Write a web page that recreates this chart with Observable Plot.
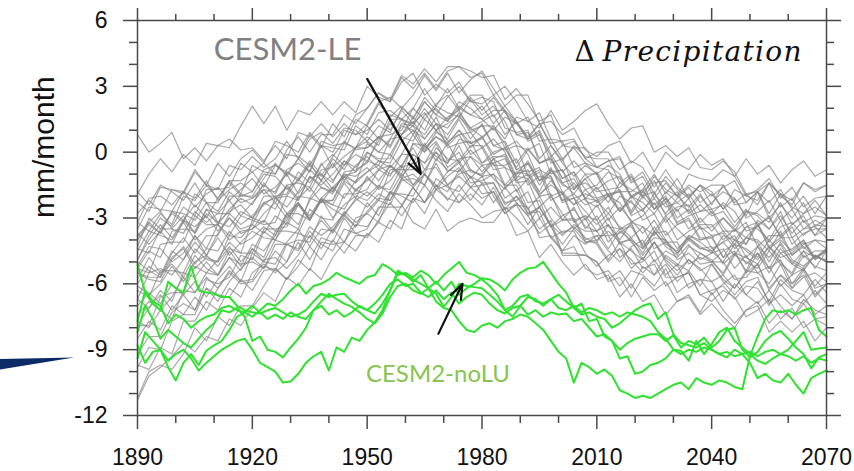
<!DOCTYPE html>
<html><head><meta charset="utf-8">
<script src="https://cdn.jsdelivr.net/npm/d3@7"></script>
<script src="https://cdn.jsdelivr.net/npm/@observablehq/plot@0.6"></script>
<style>
html,body{margin:0;padding:0;background:#fff;}
#wrap{position:relative;width:854px;height:471px;overflow:hidden;}
#wedge{position:absolute;left:0;top:357px;width:74px;height:13px;background:#0c2a66;clip-path:polygon(0 15%,100% 4%,0 96%);}
</style></head><body>
<div id="wrap"><div id="chart"></div><div id="wedge"></div></div>
<script>
// ---- sample grids ----
const grayYears = d3.range(1890, 2071, 3);   // CESM2-LE members, every 3 years
const greenYears = d3.range(1890, 2071, 2);  // CESM2-noLU members, every 2 years

// ---- CESM2-LE ensemble members (mm/month) ----
const le01 = [0.8,0.0,0.4,0.9,-0.3,0.2,-0.4,0.3,0.6,0.1, 0.2,-0.4,0.3,-0.3,0.9,0.7,1.3,0.7,1.3,0.8, 1.3,2.3,2.5,2.0,2.6,3.5,2.8,3.6,2.7,3.3, 3.7,2.9,2.1,2.6,2.6,1.3,1.4,0.8,1.1,0.1, -0.2,0.3,0.5,-0.5,0.0,-0.9,0.0,-0.5,-0.8,-0.1, -0.6,-0.3,-1.1,-0.3,-1.0,-0.6,-1.4,-0.8,-0.4,-1.1, -0.8];
const le02 = [-11.2,-10.0,-9.7,-9.9,-9.2,-8.0,-8.6,-7.5,-7.9,-7.0, -7.0,-6.1,-5.3,-5.8,-4.9,-5.4,-4.1,-4.2,-4.1,-3.0, -2.8,-3.2,-1.9,-1.9,-2.0,-1.0,-1.5,-1.8,-0.8,-1.1, -1.4,-1.4,-2.4,-2.0,-2.6,-3.5,-3.1,-4.6,-4.6,-4.7, -5.0,-5.9,-5.7,-6.6,-5.7,-6.3,-5.9,-6.8,-6.5,-7.3, -6.4,-7.2,-7.8,-7.2,-7.0,-8.2,-7.7,-8.2,-7.7,-8.6, -8.0];
const le03 = [-3.2,-3.6,-2.8,-3.3,-2.0,-2.2,-1.5,-2.1,-1.3,-1.9, -0.6,-0.9,-1.0,0.1,0.7,0.0,0.8,0.8,1.7,1.3, 2.0,2.7,2.3,3.4,2.9,3.6,2.9,3.7,3.9,3.4, 3.6,2.6,3.0,2.3,1.4,1.8,0.6,-0.3,0.2,-0.5, -1.0,-0.6,-1.0,-2.0,-1.8,-1.3,-2.3,-1.8,-2.8,-2.4, -2.9,-2.7,-3.4,-2.7,-2.9,-3.5,-2.7,-3.9,-3.5,-3.4, -3.9];
const le04 = [-5.0,-5.4,-5.7,-4.8,-4.4,-5.3,-4.8,-5.0,-4.3,-5.0, -4.4,-5.0,-4.0,-4.2,-4.5,-3.6,-4.2,-4.5,-3.5,-3.7, -3.9,-3.1,-2.3,-2.9,-2.1,-2.8,-1.7,-2.1,-2.3,-1.6, -2.1,-1.8,-2.6,-2.0,-2.8,-2.5,-3.4,-2.9,-2.6,-3.4, -3.6,-3.3,-4.0,-3.2,-3.4,-3.8,-3.0,-4.0,-3.6,-3.3, -3.3,-4.0,-3.5,-4.2,-3.1,-3.5,-2.9,-3.7,-3.1,-3.8, -3.0];
const le05 = [-4.9,-4.0,-3.3,-3.9,-3.1,-3.7,-2.6,-2.8,-2.8,-1.9, -2.1,-1.5,-1.9,-0.9,-1.3,-0.6,-1.1,-0.2,0.5,0.1, 0.2,0.7,0.3,1.3,1.2,0.8,1.6,0.5,0.8,0.9, 0.2,0.6,0.0,-1.1,-1.2,-0.9,-2.2,-1.9,-3.2,-2.9, -3.1,-4.1,-3.5,-4.1,-4.7,-4.1,-5.0,-5.6,-4.9,-5.4, -5.1,-5.8,-6.2,-5.5,-5.1,-6.2,-5.6,-6.0,-5.3,-6.1, -5.5];
const le06 = [-2.8,-2.2,-2.7,-1.7,-1.8,-2.1,-1.3,-2.2,-1.7,-1.4, -1.8,-1.0,-1.1,-1.7,-1.3,-0.5,-1.3,-0.5,-1.3,-0.6, -0.2,-0.8,-0.1,-0.7,0.4,0.0,0.5,-0.4,0.0,-0.9, -1.0,-0.5,-0.3,-1.3,-1.0,-2.0,-1.3,-1.9,-2.4,-1.7, -2.3,-2.0,-2.7,-2.0,-2.6,-2.1,-2.8,-2.1,-1.6,-2.3, -1.9,-2.6,-1.7,-2.0,-2.2,-1.4,-2.0,-2.4,-1.4,-1.8, -1.5];
const le07 = [-6.3,-6.6,-5.4,-5.4,-5.5,-4.4,-4.9,-5.0,-3.8,-3.9, -3.3,-3.7,-2.9,-3.3,-2.0,-2.1,-1.3,-1.8,-1.0,-1.4, 0.0,-0.3,-0.3,0.8,1.4,0.6,1.3,1.1,1.8,1.1, 1.4,1.7,0.8,1.4,0.5,0.8,-0.2,0.3,0.5,-0.3, -0.7,-0.4,-0.3,-1.4,-1.1,-2.1,-1.4,-2.0,-2.5,-1.9, -2.8,-2.3,-2.7,-3.6,-3.4,-2.9,-3.9,-3.4,-4.4,-4.0, -4.4];
const le08 = [-8.5,-7.7,-8.1,-7.0,-7.4,-6.6,-7.2,-6.2,-5.5,-6.0, -5.9,-5.2,-5.4,-4.2,-4.0,-4.1,-2.9,-3.6,-2.8,-2.2, -1.8,-2.2,-0.8,-0.8,-0.8,0.3,-0.2,-0.5,0.6,0.4, 0.7,-0.1,0.2,-0.7,0.1,-0.5,-0.2,-1.2,-0.9,-1.7, -1.5,-0.9,-1.2,-2.0,-1.7,-1.0,-1.9,-1.2,-2.1,-1.5, -2.0,-1.6,-1.3,-2.3,-1.8,-2.8,-1.9,-2.5,-2.8,-2.2, -2.9];
const le09 = [-3.7,-4.2,-3.6,-4.2,-3.1,-3.4,-2.9,-3.6,-3.0,-3.7, -3.5,-2.8,-2.3,-3.0,-2.4,-3.1,-2.1,-2.4,-2.6,-1.7, -2.0,-1.5,-1.9,-1.0,-1.5,-1.0,-1.7,-1.1,-0.7,-1.6, -1.1,-2.0,-2.8,-2.4,-2.5,-3.9,-3.8,-4.5,-4.3,-5.3, -5.6,-5.4,-6.1,-5.4,-5.6,-6.1,-5.3,-6.4,-6.0,-5.8, -5.9,-6.8,-6.0,-6.5,-6.9,-6.3,-7.0,-7.6,-6.7,-7.2, -7.4];
const le10 = [-7.9,-7.1,-6.5,-7.2,-6.5,-7.2,-6.2,-6.5,-6.6,-5.8, -6.3,-5.4,-5.3,-5.8,-5.2,-4.3,-4.9,-4.0,-4.6,-3.8, -3.8,-3.2,-3.5,-2.4,-3.2,-3.5,-2.6,-3.6,-3.2,-3.0, -3.2,-3.2,-2.5,-3.0,-3.6,-3.0,-3.9,-4.5,-3.8,-4.2, -3.8,-4.5,-5.0,-4.3,-4.0,-5.0,-4.5,-4.8,-4.2,-4.9, -4.6,-4.4,-5.3,-4.7,-5.5,-5.2,-6.1,-5.6,-5.3,-6.2, -6.0];
const le11 = [-3.2,-2.1,-2.0,-2.4,-1.8,-0.8,-1.5,-0.5,-1.1,-0.3, 0.1,-0.5,0.5,0.3,0.0,0.9,0.3,0.0,1.0,0.8, 1.0,1.5,1.0,1.9,1.3,1.8,1.0,1.6,1.9,1.0, 1.2,0.3,0.5,-0.5,0.2,-0.5,-0.3,-1.4,-1.2,-2.1, -2.2,-1.9,-1.8,-2.9,-2.6,-3.6,-2.9,-3.5,-4.0,-3.4, -4.4,-4.1,-4.7,-3.9,-4.0,-4.5,-3.6,-4.7,-4.2,-4.0, -4.1];
const le12 = [-5.5,-5.7,-5.7,-4.6,-3.9,-4.6,-3.8,-3.8,-2.8,-3.3, -2.9,-2.3,-2.6,-1.5,-1.4,-1.6,-0.5,-1.3,-0.6,-0.1, -0.4,0.5,1.3,0.8,1.6,1.0,2.1,1.8,1.6,2.4, 1.7,2.1,1.4,0.3,0.1,0.4,-1.0,-0.8,-2.1,-1.9, -2.1,-3.1,-2.5,-3.1,-3.7,-3.1,-4.0,-4.6,-3.9,-4.4, -4.3,-5.1,-4.6,-5.4,-4.3,-4.8,-4.2,-5.1,-4.5,-5.3, -4.5];
const le13 = [-1.8,-2.4,-1.5,-1.8,-2.2,-1.4,-2.3,-2.7,-1.8,-2.3, -2.1,-1.7,-2.3,-1.5,-2.1,-1.6,-2.3,-1.6,-1.1,-1.8, -1.2,-1.6,-0.6,-1.0,0.4,0.3,1.0,0.4,1.0,0.4, 0.6,1.2,0.6,1.6,1.4,1.1,1.9,1.0,1.4,1.9, 2.2,1.3,0.6,1.1,1.2,0.0,0.3,-0.2,0.2,-0.7, -0.8,-0.4,-0.9,-1.9,-1.8,-1.4,-2.5,-2.1,-3.2,-2.9, -3.0];
const le14 = [-9.8,-8.9,-9.0,-7.7,-7.4,-7.4,-6.2,-6.8,-5.9,-5.3, -4.8,-5.3,-4.5,-5.0,-3.7,-3.9,-3.1,-3.7,-2.9,-3.4, -2.3,-2.9,-1.8,-2.0,-2.3,-1.5,-2.2,-2.7,-1.9,-2.4, -3.0,-2.7,-2.6,-3.8,-3.6,-4.8,-4.2,-5.0,-5.6,-5.1, -5.8,-5.6,-6.6,-6.0,-6.8,-6.5,-7.4,-6.8,-6.6,-7.4, -6.9,-7.5,-8.0,-7.2,-6.8,-7.8,-7.2,-7.6,-6.9,-7.6, -7.5];
const le15 = [-4.0,-3.3,-3.7,-2.7,-3.1,-2.4,-3.0,-2.1,-1.4,-2.0, -2.0,-1.2,-0.5,-1.1,-0.3,-0.9,0.3,0.2,0.1,1.2, 0.8,1.8,1.9,1.5,2.0,2.9,2.1,2.9,2.0,2.6, 2.6,1.6,2.1,1.4,0.6,1.0,-0.1,-0.9,-0.4,-1.0, -1.0,-2.0,-1.7,-2.7,-1.8,-2.4,-2.0,-3.0,-2.6,-3.5, -3.4,-3.0,-3.6,-2.7,-2.8,-3.2,-2.3,-3.3,-2.8,-2.5, -2.9];
const le16 = [-5.2,-4.3,-4.4,-5.0,-4.6,-3.8,-4.7,-3.9,-4.7,-4.1, -3.6,-3.9,-4.0,-2.9,-2.3,-3.0,-2.2,-2.2,-1.3,-1.7, -1.3,-0.8,-1.1,-0.1,-0.1,-0.5,0.4,-0.7,-0.3,-0.2, -0.6,-0.5,-1.6,-1.2,-2.3,-2.2,-3.4,-3.1,-3.1,-4.1, -4.1,-4.9,-4.1,-4.5,-4.9,-4.1,-4.8,-5.2,-4.3,-4.6, -5.0,-4.5,-4.2,-5.1,-4.6,-5.5,-4.6,-5.1,-5.4,-4.7, -5.0];
const le17 = [-1.9,-1.0,-0.3,-0.9,-0.1,-0.6,0.4,0.3,0.2,1.2, 2.1,1.3,2.1,1.0,1.9,1.7,2.3,1.7,2.3,1.8, 3.0,2.5,2.3,3.2,3.6,2.6,3.1,2.7,3.2,2.3, 2.2,2.6,1.9,0.8,0.6,0.9,-0.5,-0.3,-1.6,-1.4, -1.8,-1.7,-2.7,-2.2,-3.1,-2.8,-3.8,-3.3,-3.1,-4.0, -3.9,-4.8,-4.0,-4.5,-4.9,-4.3,-5.0,-5.6,-4.7,-5.2, -5.4];
const le18 = [-6.7,-7.1,-6.3,-6.8,-5.5,-5.7,-5.0,-5.6,-4.8,-5.4, -4.4,-4.8,-3.6,-3.6,-3.7,-2.6,-3.0,-3.1,-1.9,-1.9, -1.7,-0.8,-0.6,-1.1,-0.5,0.4,-0.4,0.4,-0.5,0.1, -0.5,0.0,0.2,-0.8,-0.5,-1.5,-0.8,-1.4,-1.9,-1.2, -2.1,-1.9,-2.7,-2.0,-2.3,-2.8,-2.1,-3.2,-2.9,-2.7, -2.6,-3.4,-4.0,-3.4,-3.2,-4.4,-4.0,-4.5,-4.0,-4.9, -4.5];
const le19 = [-5.3,-5.5,-4.2,-4.1,-4.1,-2.9,-3.3,-3.3,-2.0,-2.0, -1.8,-0.8,-0.6,-1.0,-0.3,0.8,0.2,1.3,0.7,1.7, 2.0,2.7,2.4,3.5,3.1,3.8,3.2,3.9,3.9,3.7, 3.4,3.5,2.4,2.9,2.2,1.4,1.7,0.3,0.2,0.2, -0.7,-0.4,-0.2,-1.3,-0.9,-1.9,-1.1,-1.7,-2.1,-1.5, -1.8,-2.6,-2.1,-2.9,-1.8,-2.3,-1.7,-2.6,-2.0,-2.8, -2.0];
const le20 = [-11.3,-10.2,-9.8,-9.3,-8.7,-9.1,-8.4,-8.6,-7.6,-7.9, -7.1,-6.4,-6.8,-5.7,-6.1,-5.3,-5.8,-4.8,-4.1,-4.5, -3.7,-4.1,-3.1,-3.5,-2.1,-2.3,-1.5,-2.2,-1.5,-2.2, -1.4,-2.3,-1.6,-2.3,-2.9,-2.5,-3.4,-4.2,-3.5,-4.1, -4.0,-3.6,-4.1,-5.1,-5.0,-4.5,-5.6,-5.1,-6.2,-5.8, -6.5,-6.0,-5.6,-6.5,-5.9,-6.8,-5.8,-6.3,-6.5,-5.8, -6.4];
const le21 = [-3.8,-3.2,-3.7,-2.7,-2.8,-3.1,-2.3,-3.2,-2.7,-2.4, -3.0,-2.4,-2.0,-2.8,-2.3,-3.1,-2.2,-2.6,-2.9,-2.1, -2.5,-1.9,-2.2,-1.2,-1.6,-1.0,-1.6,-0.9,-0.4,-1.2, -0.6,-1.2,-1.7,-1.0,-0.8,-1.9,-1.5,-1.9,-1.4,-2.1, -1.6,-2.3,-1.4,-1.7,-2.0,-1.1,-1.7,-2.0,-1.0,-1.2, -1.3,-0.8,-1.1,-2.0,-1.7,-1.2,-2.1,-1.6,-2.5,-2.1, -2.0];
const le22 = [-7.7,-8.0,-7.2,-7.6,-6.3,-6.4,-5.7,-6.2,-5.4,-5.9, -4.6,-5.0,-5.1,-4.1,-3.5,-4.3,-3.5,-3.6,-2.7,-3.2, -2.8,-2.2,-2.4,-1.3,-1.2,-1.5,-0.5,-1.5,-1.0,-0.8, -1.1,-1.0,-2.1,-1.7,-2.8,-2.7,-3.9,-3.6,-3.6,-4.6, -5.2,-4.7,-4.4,-5.3,-4.8,-5.6,-4.7,-5.1,-5.4,-4.6, -4.9,-5.6,-4.7,-5.0,-5.3,-4.5,-5.1,-5.5,-4.5,-4.8, -4.9];
const le23 = [-4.9,-3.8,-3.0,-3.4,-2.5,-2.9,-1.7,-1.7,-1.6,-0.5, -0.9,-0.5,-1.0,-0.1,-0.2,-0.6,0.3,-0.7,-0.2,0.2, 0.5,0.0,-0.1,0.8,1.2,0.2,0.7,0.3,0.8,-0.1, 0.2,-0.8,-0.7,-1.8,-1.2,-2.0,-1.9,-3.1,-3.0,-4.0, -3.8,-3.8,-4.8,-4.4,-5.3,-5.1,-6.1,-5.7,-5.5,-6.5, -6.8,-6.3,-6.6,-7.5,-7.2,-6.7,-7.6,-7.1,-8.0,-7.6, -7.9];
const le24 = [-6.0,-5.2,-5.6,-4.5,-4.9,-4.1,-4.7,-3.7,-3.0,-3.5, -3.3,-2.3,-2.1,-2.5,-1.8,-0.8,-1.3,-0.3,-0.8,0.2, 0.7,0.3,1.5,1.5,1.3,2.3,1.7,1.4,2.3,2.0, 1.5,1.9,1.9,0.8,0.9,-0.3,0.3,-0.5,-1.1,-0.6, -1.0,-2.0,-1.8,-2.8,-2.0,-2.6,-2.3,-3.3,-3.0,-3.9, -3.9,-3.6,-4.2,-3.4,-3.5,-4.0,-3.1,-4.2,-3.7,-3.5, -3.5];
const le25 = [-6.1,-6.5,-6.0,-5.2,-5.9,-5.0,-4.7,-5.2,-4.4,-4.6, -4.6,-3.5,-3.5,-3.4,-2.4,-2.9,-2.1,-1.6,-2.1,-1.3, -0.9,-0.4,-0.7,-0.1,0.8,0.0,0.9,0.6,1.5,0.6, 1.3,0.3,0.1,0.3,-1.1,-0.8,-1.1,-2.2,-2.1,-2.7, -3.3,-2.8,-3.4,-3.9,-3.4,-4.4,-4.1,-4.1,-5.1,-4.8, -5.0,-5.0,-5.8,-5.7,-5.1,-6.3,-5.6,-6.2,-5.4,-6.5, -6.0];
const le26 = [-4.5,-3.6,-3.8,-4.0,-3.2,-4.0,-3.5,-3.3,-4.0,-3.6, -3.5,-3.1,-3.6,-3.1,-2.3,-3.1,-2.2,-2.4,-1.4,-2.1, -1.1,-1.7,-1.3,-0.6,-1.5,-0.8,-0.7,-1.5,-1.1,-1.6, -1.5,-1.4,-2.3,-2.2,-1.8,-3.0,-2.5,-3.1,-2.5,-3.5, -2.9,-3.8,-3.7,-3.3,-4.3,-3.7,-3.6,-4.4,-3.9,-4.3, -4.6,-3.8,-4.0,-4.2,-3.3,-4.1,-3.4,-3.2,-3.8,-3.3, -3.4];
const le27 = [-7.4,-6.8,-7.2,-6.6,-5.7,-6.4,-5.5,-5.6,-4.5,-5.2, -4.2,-4.5,-3.8,-2.8,-3.3,-2.2,-1.6,-1.9,-0.9,-0.8, -0.5,0.7,0.8,1.0,2.0,1.5,2.2,2.6,1.9,2.5, 1.9,2.5,1.8,1.3,1.6,0.5,0.6,0.5,-0.7,-0.5, -0.7,-0.8,-1.8,-1.8,-1.4,-2.6,-2.1,-2.7,-2.1,-3.2, -2.7,-3.6,-3.6,-3.2,-4.3,-3.8,-3.8,-4.7,-4.3,-4.8, -4.5];
const le28 = [-3.5,-2.5,-2.6,-2.7,-1.8,-2.5,-1.9,-1.6,-2.2,-1.7, -1.2,-1.9,-1.6,-1.0,-1.9,-1.2,-1.0,-1.7,-1.1,-1.4, -0.9,-0.6,-1.0,-0.6,0.2,-0.8,0.0,-0.5,0.3,-0.8, -1.1,-0.3,-0.7,-1.0,-0.4,-1.3,-0.9,-0.8,-1.7,-1.2, -0.9,-1.7,-1.6,-1.1,-2.1,-1.4,-1.3,-2.0,-1.5,-1.8, -1.5,-1.5,-2.4,-2.3,-1.8,-3.0,-2.4,-3.0,-2.3,-3.4, -3.0];
const le29 = [-5.8,-4.8,-5.5,-5.1,-5.7,-4.7,-5.3,-5.6,-4.8,-5.1, -5.0,-5.3,-4.2,-4.2,-4.4,-3.4,-3.8,-3.4,-2.8,-3.4, -2.7,-2.1,-2.2,-1.2,-1.0,-1.5,-0.3,-0.8,-0.9,-0.2, -0.9,-0.3,-1.5,-1.5,-2.6,-2.0,-3.0,-3.7,-3.4,-3.9, -4.2,-5.0,-4.4,-4.9,-5.5,-4.9,-5.7,-5.7,-5.5,-6.5, -6.3,-6.1,-6.7,-6.1,-6.2,-7.0,-6.0,-6.7,-6.9,-6.3, -6.9];
const le30 = [-9.2,-8.4,-8.4,-7.3,-6.9,-7.2,-5.8,-6.0,-5.7,-4.7, -4.9,-3.6,-4.0,-3.2,-3.5,-2.1,-2.3,-2.2,-1.1,-0.9, -0.4,-0.6,0.6,0.7,0.5,1.5,1.0,1.3,1.7,0.9, 1.2,1.2,0.2,0.5,-0.1,-1.3,-0.7,-1.8,-2.4,-2.1, -3.1,-2.5,-3.5,-3.4,-4.2,-3.4,-4.1,-4.6,-4.0,-4.4, -4.5,-5.0,-4.2,-4.4,-4.8,-4.0,-4.6,-4.4,-4.0,-4.8, -4.4];
const le31 = [-4.4,-4.6,-3.5,-3.5,-3.7,-2.7,-3.2,-2.8,-2.2,-2.9, -2.3,-1.7,-1.8,-0.8,-0.5,-0.9,0.5,0.3,0.4,1.5, 1.2,2.2,1.6,2.1,1.5,2.5,1.9,1.5,2.1,1.7, 1.5,1.0,1.6,1.3,0.6,1.3,0.4,0.5,0.6,-0.3, 0.0,0.0,-0.8,-0.4,-0.7,-1.6,-0.8,-1.6,-2.0,-1.5, -2.4,-1.5,-2.3,-1.9,-2.4,-1.4,-1.9,-2.2,-1.4,-1.7, -1.5];
const le32 = [-7.0,-6.4,-6.9,-6.0,-6.5,-5.9,-6.6,-5.8,-5.2,-5.9, -5.8,-4.9,-4.8,-5.3,-4.7,-3.8,-4.4,-3.5,-4.1,-3.3, -3.4,-2.6,-1.8,-2.4,-1.6,-2.3,-1.2,-1.6,-1.8,-1.1, -1.9,-1.8,-2.8,-2.3,-2.9,-3.7,-3.3,-4.7,-4.7,-4.7, -5.0,-5.8,-5.4,-6.2,-5.2,-5.6,-5.1,-5.9,-5.4,-6.1, -5.1,-5.9,-6.5,-5.9,-5.7,-6.9,-6.5,-7.0,-6.5,-7.4, -7.0];
const le33 = [-2.3,-2.7,-1.6,-1.7,-1.9,-0.9,-1.5,-1.7,-0.6,-0.8, -0.2,-0.7,-0.3,0.5,-0.3,0.6,0.9,0.4,1.1,1.0, 0.5,1.2,0.9,2.0,1.6,2.3,1.7,2.5,3.0,2.3, 2.5,2.3,1.1,0.9,1.0,-0.5,-0.3,-1.2,-0.9,-2.2, -2.5,-2.0,-2.3,-3.2,-2.9,-2.3,-3.2,-2.6,-3.5,-3.0, -3.6,-3.0,-3.5,-3.9,-3.3,-4.3,-3.9,-3.9,-4.8,-4.5, -4.5];
const le34 = [-5.3,-4.5,-4.8,-3.6,-3.5,-3.6,-2.6,-3.3,-2.6,-2.1, -2.4,-1.4,-2.1,-1.6,-2.2,-1.1,-1.6,-1.8,-1.0,-1.1, -0.7,-1.3,-0.6,-1.2,-0.1,-0.5,0.0,-0.9,-0.5,-1.4, -1.3,-1.0,-1.5,-0.9,-1.0,-1.8,-0.8,-1.5,-1.7,-1.0, -1.7,-1.3,-1.1,-2.1,-1.7,-2.6,-1.8,-2.3,-2.7,-2.0, -2.6,-2.4,-3.2,-2.6,-3.3,-3.0,-3.8,-3.3,-2.9,-3.8, -3.5];
const le35 = [-7.9,-7.9,-6.6,-6.4,-6.4,-5.2,-5.5,-4.9,-4.1,-4.6, -3.1,-3.3,-3.2,-2.0,-1.2,-1.8,-0.8,-0.7,0.4,0.2, 1.2,0.6,1.7,1.5,1.2,2.0,1.3,0.8,1.6,1.1, 0.7,1.1,0.4,-0.8,-0.9,-0.7,-2.0,-1.8,-3.1,-2.9, -3.6,-3.0,-4.1,-4.0,-4.9,-4.1,-4.9,-5.4,-4.9,-5.3, -5.9,-5.6,-6.2,-5.4,-5.5,-6.0,-5.1,-6.2,-5.7,-5.5, -5.9];
const le36 = [-3.9,-3.2,-2.7,-3.5,-2.9,-3.7,-2.8,-3.2,-3.4,-2.7, -3.0,-3.2,-2.1,-2.0,-2.2,-1.1,-1.5,-1.0,-0.4,-0.9, 0.4,0.0,0.6,1.5,0.8,1.7,2.0,1.4,2.0,1.7, 2.1,1.3,1.9,1.4,0.7,1.3,0.3,-0.4,0.3,-0.2, -0.3,-0.3,-1.4,-1.0,-2.0,-1.8,-2.9,-2.5,-2.4,-3.4, -3.8,-3.7,-4.4,-3.9,-4.1,-5.0,-4.1,-4.9,-5.2,-4.7, -5.0];
const le37 = [-5.5,-5.8,-5.9,-4.9,-4.3,-5.1,-4.4,-4.5,-3.6,-4.2, -3.9,-3.4,-3.8,-2.8,-2.8,-3.1,-2.1,-3.0,-2.4,-2.0, -2.2,-1.6,-1.7,-0.7,-0.5,-1.0,0.2,-0.3,-0.4,0.3, 0.3,-0.6,-0.6,-0.3,-1.5,-1.1,-1.2,-2.2,-1.9,-2.4, -2.2,-2.8,-2.0,-2.3,-2.7,-1.9,-2.5,-2.3,-1.9,-2.7, -2.3,-1.8,-2.1,-3.0,-2.7,-2.2,-3.1,-2.6,-3.5,-3.1, -3.4];
const le38 = [-9.7,-9.9,-8.9,-9.2,-7.7,-7.7,-6.8,-7.2,-6.2,-6.6, -5.5,-5.1,-5.5,-5.0,-4.1,-4.9,-3.9,-4.1,-3.0,-3.7, -3.5,-2.5,-2.5,-2.5,-1.6,-2.3,-1.7,-1.5,-2.3,-1.9, -2.4,-1.6,-2.6,-2.4,-3.3,-2.5,-3.3,-3.8,-3.3,-3.6, -3.6,-4.4,-3.6,-4.0,-4.4,-3.6,-4.3,-4.7,-3.8,-4.1, -4.5,-4.1,-3.8,-4.8,-4.3,-5.3,-4.4,-5.0,-5.3,-4.7, -5.0];
const le39 = [-4.3,-3.0,-3.5,-2.8,-3.2,-1.9,-2.3,-2.3,-1.3,-1.3, -0.9,-1.6,-0.6,-0.9,-1.2,-0.4,-1.0,-1.4,-0.4,-0.7, 0.0,-0.4,-0.5,0.5,1.0,0.1,0.7,0.4,1.0,0.2, 0.7,-0.3,-0.1,-1.2,-0.5,-1.3,-1.1,-2.3,-2.1,-3.1, -2.4,-3.4,-3.5,-3.2,-4.4,-3.9,-4.0,-4.9,-4.6,-5.1, -5.0,-5.5,-4.6,-4.8,-5.1,-4.3,-4.8,-4.6,-4.1,-4.9, -4.4];
const le40 = [-6.7,-5.5,-5.3,-5.6,-4.9,-3.8,-4.4,-3.3,-3.8,-2.9, -3.1,-2.0,-2.0,-1.9,-0.9,-1.4,-0.6,-0.1,-0.6,0.2, 0.2,0.7,0.2,1.2,1.0,0.6,1.3,0.2,0.4,0.5, -0.5,-0.2,-0.2,-1.4,-1.3,-2.5,-2.0,-2.8,-3.5,-3.0, -4.1,-3.3,-4.2,-3.9,-4.6,-3.6,-4.2,-4.5,-3.8,-4.0, -3.8,-4.8,-4.5,-5.5,-4.6,-5.3,-4.9,-6.0,-5.6,-6.6, -6.0];

// ---- CESM2-noLU members (mm/month) ----
const nolu1 = [-8.8,-9.6,-9.1,-9.0,-9.5,-9.2,-9.0,-9.4,-9.95,-9.6, -9.3,-9.0,-8.8,-8.6,-8.5,-9.0,-9.6,-9.8,-10.0,-10.5, -10.45,-10.1,-9.6,-9.3,-9.1,-9.95,-8.9,-9.1,-8.45,-8.6, -8.1,-7.75,-7.2,-6.3,-5.5,-5.6,-5.9,-5.6,-6.2,-5.9, -6.3,-5.9,-6.5,-6.2,-6.0,-5.75,-5.8,-6.0,-6.3,-5.8, -5.5,-5.3,-5.25,-5.0,-5.5,-6.0,-6.4,-7.1,-6.9,-7.7, -7.6,-8.4,-8.6,-9.4,-9.3,-10.1,-10.0,-9.7,-9.6,-9.4, -9.0,-9.2,-9.0,-9.1,-8.9,-9.0,-9.2,-9.1,-9.3,-9.2, -9.1,-9.3,-9.1,-9.0,-9.2,-9.3,-9.5,-9.3,-9.6,-9.4, -9.5];
const nolu2 = [-8.2,-7.0,-7.6,-8.5,-8.1,-8.4,-8.7,-8.9,-8.5,-8.1, -7.8,-7.2,-7.3,-7.1,-7.5,-8.6,-8.4,-9.0,-9.1,-9.35, -8.9,-8.5,-8.0,-7.2,-6.8,-6.45,-6.7,-6.9,-7.05,-7.3, -7.6,-7.8,-7.35,-6.6,-6.1,-6.0,-6.3,-6.45,-6.2,-6.8, -7.1,-7.2,-7.7,-8.1,-8.2,-7.9,-7.8,-8.0,-7.7,-7.6, -7.4,-7.5,-7.8,-8.1,-8.6,-9.1,-9.4,-10.5,-9.6,-9.8, -10.1,-9.9,-10.2,-10.85,-11.0,-11.2,-11.1,-11.2,-11.0,-10.8, -10.6,-10.5,-10.8,-10.3,-10.5,-10.6,-10.4,-10.5,-10.7,-10.8, -9.3,-8.4,-7.6,-7.2,-7.3,-7.2,-7.4,-7.2,-7.1,-8.1, -8.4];
const nolu3 = [-7.7,-6.3,-6.8,-7.0,-7.8,-7.4,-7.6,-8.0,-7.7,-7.5, -7.4,-7.1,-7.0,-7.2,-7.3,-7.5,-7.2,-6.9,-7.0,-6.7, -6.3,-6.0,-6.45,-6.1,-6.0,-5.8,-5.5,-5.7,-5.85,-6.0, -5.7,-5.6,-5.1,-5.3,-5.6,-5.5,-5.7,-5.4,-5.6,-6.0, -5.6,-5.3,-5.0,-5.5,-5.6,-5.8,-6.1,-6.5,-7.2,-7.5, -7.0,-6.6,-6.7,-7.0,-6.7,-6.5,-6.8,-7.1,-7.4,-7.3, -7.5,-7.6,-8.0,-7.8,-7.5,-7.2,-7.0,-6.9,-7.6,-7.3, -8.3,-8.7,-8.8,-8.9,-8.7,-9.0,-9.2,-9.35,-9.0,-9.2, -9.6,-10.3,-10.1,-10.4,-10.5,-10.1,-10.6,-11.0,-10.3,-10.1, -9.95];
const nolu4 = [-9.4,-8.2,-8.6,-9.0,-9.8,-10.4,-9.6,-9.2,-9.7,-9.05, -8.8,-8.6,-8.1,-7.5,-7.3,-7.0,-7.3,-7.6,-7.4,-7.6, -7.3,-7.5,-7.6,-7.2,-7.0,-7.4,-7.2,-7.5,-7.3,-7.0, -7.2,-6.9,-6.5,-6.0,-5.8,-6.1,-6.0,-6.4,-6.6,-6.3, -6.7,-6.4,-6.9,-6.6,-6.4,-6.5,-6.9,-7.2,-7.35,-7.1, -7.0,-7.4,-7.2,-7.5,-7.3,-7.4,-7.35,-7.7,-7.6,-8.0, -8.4,-8.3,-8.6,-9.0,-8.7,-8.5,-8.4,-8.3,-8.3,-8.6, -8.35,-8.9,-8.6,-8.75,-8.45,-8.9,-8.6,-8.1,-8.0,-9.0, -9.35,-9.1,-8.6,-8.3,-8.15,-8.5,-8.9,-9.2,-9.85,-9.35, -9.2];
const nolu5 = [-5.1,-6.4,-6.9,-7.2,-5.9,-6.2,-6.4,-5.2,-6.3,-6.4, -6.45,-6.6,-6.6,-7.0,-7.2,-7.3,-7.35,-7.2,-7.1,-7.3, -7.5,-7.4,-7.2,-6.8,-6.45,-6.6,-6.5,-6.45,-6.8,-7.05, -7.2,-7.35,-6.9,-6.3,-5.4,-5.6,-5.8,-6.0,-6.2,-6.45, -7.05,-6.6,-6.0,-6.1,-6.15,-6.2,-6.5,-6.8,-7.2,-7.0, -6.6,-6.5,-6.8,-6.9,-6.7,-7.1,-7.2,-7.0,-7.3,-7.1, -7.2,-7.4,-7.3,-7.5,-7.3,-7.4,-7.5,-7.7,-8.2,-8.5, -9.0,-9.05,-9.5,-8.6,-9.2,-8.75,-8.2,-8.0,-8.6,-8.9, -9.2,-9.5,-9.65,-9.4,-9.2,-9.0,-8.6,-8.2,-9.0,-8.95, -8.9];

// ---- axes ----
const xMajor = [1890, 1920, 1950, 1980, 2010, 2040, 2070];
const xMinor = [1900, 1910, 1930, 1940, 1960, 1970, 1990, 2000, 2020, 2030, 2050, 2060];
const yMajor = [-12, -9, -6, -3, 0, 3, 6];
const yMinor = [-11, -10, -8, -7, -5, -4, -2, -1, 1, 2, 4, 5];
const yTitle = "mm/month";

// ---- annotations (data coordinates) ----
const labelLE = [{year: 1929.2, value: 4.66, text: "CESM2-LE"}];
const labelNoLU = [{year: 1968.5, value: -10.11, text: "CESM2-noLU"}];
const labelDelta = [{year: 2006.8, value: 4.56, text: "Δ"}];
const labelPrecip = [{year: 2011.5, value: 4.56, text: "Precipitation"}];
const arrows = [
  {x1: 1950.0, y1: 3.34, x2: 1964.0, y2: -0.99},
  {x1: 1968.6, y1: -8.28, x2: 1974.9, y2: -6.0}
];

const leMembers = [le01,le02,le03,le04,le05,le06,le07,le08,le09,le10,le11,le12,le13,le14,le15,le16,le17,le18,le19,le20,
                   le21,le22,le23,le24,le25,le26,le27,le28,le29,le30,le31,le32,le33,le34,le35,le36,le37,le38,le39,le40];
const noluMembers = [nolu1,nolu2,nolu3,nolu4,nolu5];
const rowsLE = [];
leMembers.forEach((vals, m) => vals.forEach((v, i) => rowsLE.push({member: m, year: grayYears[i], value: v})));
const rowsNoLU = [];
noluMembers.forEach((vals, m) => vals.forEach((v, i) => rowsNoLU.push({member: m, year: greenYears[i], value: v})));

const sans = "'Liberation Sans', Arial, Helvetica, sans-serif";
const axisColor = "#4a4a4a";
const fmt = d => String(d);

const chart = Plot.plot({
  width: 854, height: 471,
  marginLeft: 137, marginRight: 28, marginTop: 20, marginBottom: 56,
  style: {fontFamily: sans, background: "#fff"},
  x: {domain: [1890, 2070], axis: null},
  y: {domain: [-12, 6], axis: null},
  marks: [
    Plot.line(rowsLE, {x: "year", y: "value", z: "member", stroke: "#858585", strokeOpacity: 0.7, strokeWidth: 1.2}),
    Plot.line(rowsNoLU, {x: "year", y: "value", z: "member", stroke: "#2fe22f", strokeWidth: 2}),
    Plot.frame({stroke: axisColor, strokeWidth: 1.5}),
    Plot.axisX(xMajor, {anchor: "bottom", tickSize: 14, tickPadding: 19, tickFormat: fmt, fontSize: 23, stroke: axisColor, strokeWidth: 1.5, fill: "#111", label: null}),
    Plot.axisX(xMinor, {anchor: "bottom", tickSize: 8, stroke: axisColor, strokeWidth: 1.5, fill: "none", label: null}),
    Plot.axisX(xMajor, {anchor: "top", tickSize: 13, stroke: axisColor, strokeWidth: 1.5, fill: "none", label: null}),
    Plot.axisX(xMinor, {anchor: "top", tickSize: 7, stroke: axisColor, strokeWidth: 1.5, fill: "none", label: null}),
    Plot.axisY(yMajor, {anchor: "left", tickSize: 14, tickPadding: 16, tickFormat: fmt, fontSize: 23, stroke: axisColor, strokeWidth: 1.5, fill: "#111", label: null}),
    Plot.axisY(yMinor, {anchor: "left", tickSize: 8, stroke: axisColor, strokeWidth: 1.5, fill: "none", label: null}),
    Plot.axisY(yMajor, {anchor: "right", tickSize: 14, stroke: axisColor, strokeWidth: 1.5, fill: "none", label: null}),
    Plot.axisY(yMinor, {anchor: "right", tickSize: 7, stroke: axisColor, strokeWidth: 1.5, fill: "none", label: null}),
    Plot.text([yTitle], {text: d => d, frameAnchor: "left", dx: -93, rotate: -90, fontSize: 30, fill: "#111", fontFamily: sans}),
    Plot.arrow(arrows, {x1: "x1", y1: "y1", x2: "x2", y2: "y2", stroke: "#111", strokeWidth: 2.2, headLength: 11, headAngle: 40}),
    Plot.text(labelLE, {x: "year", y: "value", text: "text", fontSize: 31, fill: "#808080", fontFamily: "Lato, 'Open Sans', sans-serif"}),
    Plot.text(labelNoLU, {x: "year", y: "value", text: "text", fontSize: 24, fill: "#88c451", fontFamily: "Lato, 'Open Sans', sans-serif"}),
    Plot.text(labelDelta, {x: "year", y: "value", text: "text", fontSize: 28, fill: "#111", fontFamily: "'DejaVu Serif', serif"}),
    Plot.text(labelPrecip, {x: "year", y: "value", text: "text", textAnchor: "start", fontSize: 28, fontStyle: "italic", fill: "#111", fontFamily: "'DejaVu Serif', serif"})
  ]
});
d3.select(chart).selectAll("text").filter(function() { return this.textContent === "Precipitation"; }).attr("letter-spacing", 1.3);
document.getElementById("chart").appendChild(chart);
</script></body></html>
